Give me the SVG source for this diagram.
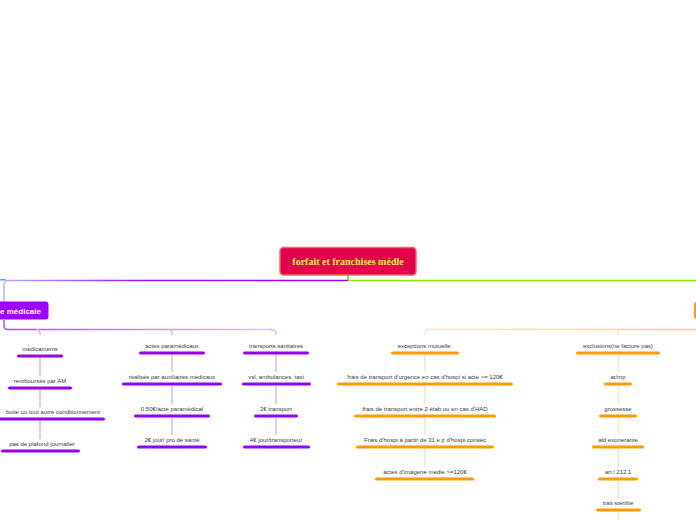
<svg xmlns="http://www.w3.org/2000/svg" width="696" height="520" viewBox="0 0 696 520">
<defs>
<linearGradient id="gP" x1="0" y1="0" x2="1" y2="0"><stop offset="0" stop-color="#a850f0"/><stop offset="1" stop-color="#dcc4ff"/></linearGradient>
<linearGradient id="gO" x1="0" y1="0" x2="1" y2="0"><stop offset="0" stop-color="#ffe6c4"/><stop offset="1" stop-color="#ffc888"/></linearGradient>
<linearGradient id="gT" x1="0" y1="0" x2="1" y2="0"><stop offset="0" stop-color="#c0a8ff"/><stop offset="0.4" stop-color="#9a10ff"/><stop offset="1" stop-color="#9a00ff"/></linearGradient>
<style>
.t{font-family:"Liberation Sans",Arial,sans-serif;font-size:6px;fill:#3a3a3a;text-anchor:middle}
.bp{stroke:#9400f0;stroke-width:3;stroke-linecap:round;fill:none}
.bo{stroke:#ff9a00;stroke-width:3;stroke-linecap:round;fill:none}
.vp{stroke:#dcb4ff;stroke-width:1.5;fill:none}
.vo{stroke:#ffe2bb;stroke-width:1.5;fill:none}
</style>
</defs>
<g id="connectors">
<line x1="348" y1="275" x2="348" y2="280.5" stroke="#8cbf00" stroke-width="1.5"/>
<line x1="0" y1="279.8" x2="6" y2="279.8" stroke="#4aa0ff" stroke-width="1.5"/>
<path d="M348 280.5 H8 Q4 280.5 4 284.5 V302" stroke="url(#gT)" stroke-width="1.5" fill="none"/>
<line x1="348" y1="280.5" x2="696" y2="280.5" stroke="#80e800" stroke-width="1.5"/>
<path d="M4 320 V326 Q4 329.5 8 329.5 H272" stroke="url(#gP)" stroke-width="1.5" fill="none"/>
<path d="M36 329.5 Q40 329.5 40 333.5 V335" class="vp"/>
<path d="M168 329.5 Q172 329.5 172 333.5 V335" class="vp"/>
<path d="M271 329.5 Q276 329.5 276 334 V335" class="vp"/>
<path d="M696 329.5 H429 Q425 329.5 425 333.5 V335" stroke="url(#gO)" stroke-width="1.5" fill="none"/>
<path d="M614 329.5 Q618.5 329.5 618.5 334 V335" class="vo"/>
<path d="M40 357.5 V376 M40 389.5 V407 M40 420.5 V439" class="vp"/>
<path d="M172 354.5 V372 M172 385.5 V404 M172 417.5 V435" class="vp"/>
<path d="M276 354.5 V372 M276 385.5 V404 M276 417.5 V435" class="vp"/>
<path d="M425 354.5 V372 M425 385.5 V404 M425 417.5 V435 M425 448.5 V467" class="vo"/>
<path d="M618.5 354.5 V372 M618.5 385.5 V404 M618.5 417.5 V435 M618.5 448.5 V467 M618.5 480.5 V498 M618.5 511.5 V520" class="vo"/>
</g>
<g id="root">
<rect x="280" y="247.5" width="136" height="27.5" rx="3.5" fill="#e4004c" stroke="#ef6a60" stroke-width="1.5"/>
<text x="348" y="264.5" font-family="Liberation Serif,'DejaVu Serif',serif" font-size="10" font-weight="bold" fill="#f8ec50" text-anchor="middle">forfait et franchises médle</text>
</g>
<g id="franchise-medicale">
<rect x="-6" y="301.5" width="54.5" height="18" rx="3" fill="#9f00ff"/>
<text x="41" y="313.5" font-family="Liberation Sans,Arial,sans-serif" font-size="8" font-weight="bold" fill="#ffffff" text-anchor="end">e médicale</text>
</g>
<g id="orange-node">
<rect x="694" y="302" width="10" height="17" rx="3" fill="#ff9a00"/>
</g>
<g id="medicaments"><text class="t" x="40" y="350.5">médicaments</text><line class="bp" x1="18.5" y1="356" x2="61.5" y2="356"/></g>
<g id="rembourses"><text class="t" x="40" y="382.5">remboursés par AM</text><line class="bp" x1="9.5" y1="388" x2="70.5" y2="388"/></g>
<g id="boite"><text class="t" x="100" y="413.5" style="text-anchor:end">boite ou tout autre conditionnement</text><line class="bp" x1="-25" y1="419" x2="103.5" y2="419"/></g>
<g id="plafond"><text class="t" x="42" y="445.5">pas de plafond journalier</text><line class="bp" x1="2.5" y1="451" x2="78.5" y2="451"/></g>
<g id="actes-para"><text class="t" x="172" y="347.5">actes paramédicaux</text><line class="bp" x1="140.5" y1="353" x2="203.5" y2="353"/></g>
<g id="realises"><text class="t" x="172" y="378.5">réalisés par auxiliaires médicaux</text><line class="bp" x1="123.5" y1="384" x2="220.5" y2="384"/></g>
<g id="acte050"><text class="t" x="172" y="410.5">0.50€/acte paramédical</text><line class="bp" x1="135.5" y1="416" x2="208.5" y2="416"/></g>
<g id="jour2"><text class="t" x="172" y="441.5">2€ jour/ pro de santé</text><line class="bp" x1="138.5" y1="447" x2="205.5" y2="447"/></g>
<g id="transports"><text class="t" x="276" y="347.5">transports sanitaires</text><line class="bp" x1="244.5" y1="353" x2="307.5" y2="353"/></g>
<g id="vsl"><text class="t" x="276" y="378.5">vsl, ambulances, taxi</text><line class="bp" x1="243.5" y1="384" x2="309.5" y2="384"/></g>
<g id="transport2"><text class="t" x="276" y="410.5">2€ transport</text><line class="bp" x1="255.5" y1="416" x2="296.5" y2="416"/></g>
<g id="jour4"><text class="t" x="276" y="441.5">4€ jour/transporteur</text><line class="bp" x1="244.5" y1="447" x2="308.5" y2="447"/></g>
<g id="exceptions"><text class="t" x="425" y="347.5">exceptions mutuelle:</text><line class="bo" x1="392.5" y1="353" x2="457.5" y2="353"/></g>
<g id="urgence"><text class="t" x="425" y="378.5">frais de transport d'urgence en cas d'hospi si acte &gt;= 120€</text><line class="bo" x1="338.5" y1="384" x2="511.5" y2="384"/></g>
<g id="etab"><text class="t" x="425" y="410.5">frais de transport entre 2 étab ou en cas d'HAD</text><line class="bo" x1="355.5" y1="416" x2="494.5" y2="416"/></g>
<g id="hospi31"><text class="t" x="425" y="441.5">Frais d'hospi à partir de 31 e jr d'hospi conséc</text><line class="bo" x1="357.5" y1="447" x2="492.5" y2="447"/></g>
<g id="imagerie"><text class="t" x="425" y="473.5">actes d'imagerie médie &gt;=120€</text><line class="bo" x1="376.5" y1="479" x2="472.5" y2="479"/></g>
<g id="exclusions"><text class="t" x="618" y="347.5">exclusions(ne facture pas)</text><line class="bo" x1="577.5" y1="353" x2="658.5" y2="353"/></g>
<g id="atmp"><text class="t" x="618" y="378.5">at/mp</text><line class="bo" x1="605.5" y1="384" x2="630.5" y2="384"/></g>
<g id="grossesse"><text class="t" x="618" y="410.5">grossesse</text><line class="bo" x1="600.5" y1="416" x2="635.5" y2="416"/></g>
<g id="ald"><text class="t" x="618" y="441.5">ald exonérante</text><line class="bo" x1="593.5" y1="447" x2="642.5" y2="447"/></g>
<g id="art"><text class="t" x="618" y="473.5">art l 212.1</text><line class="bo" x1="599.5" y1="479" x2="636.5" y2="479"/></g>
<g id="sterilite"><text class="t" x="618" y="504.5">trait stérilité</text><line class="bo" x1="597.5" y1="510" x2="639.5" y2="510"/></g>
</svg>
